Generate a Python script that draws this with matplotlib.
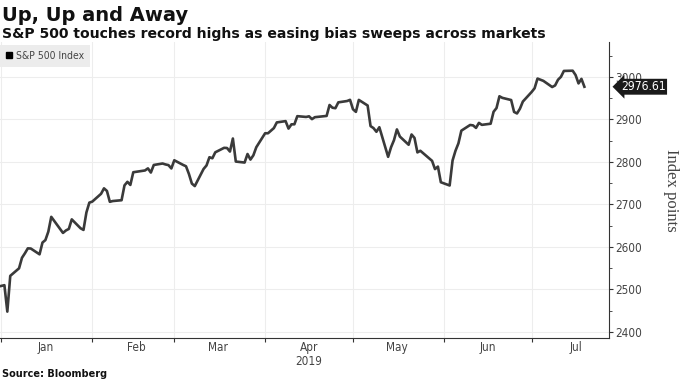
import matplotlib
matplotlib.use("Agg")
import matplotlib.pyplot as plt
import matplotlib.dates as mdates
from matplotlib.lines import Line2D
from matplotlib.ticker import MultipleLocator
import pandas as pd

# S&P 500 daily closes, Dec 31 2018 - Jul 19 2019
dates = pd.bdate_range("2018-12-31", "2019-07-19")
holidays = ["2019-01-01", "2019-01-21", "2019-02-18", "2019-04-19",
            "2019-05-27", "2019-07-04"]
dates = dates[~dates.isin(pd.to_datetime(holidays))]

closes = [
    2506.85, 2510.03, 2447.89, 2531.94, 2549.69, 2574.41, 2584.96, 2596.64,
    2596.26, 2582.61, 2610.30, 2616.10, 2635.96, 2670.71, 2632.90, 2638.70,
    2642.33, 2664.76, 2643.85, 2640.00, 2681.05, 2704.10,
    2706.53, 2724.87, 2737.70, 2731.61, 2706.05, 2707.88, 2709.80, 2744.73,
    2753.03, 2745.73, 2775.60, 2779.76, 2784.70, 2774.88, 2792.67, 2796.11,
    2793.90, 2792.38, 2784.49,
    2803.69, 2792.81, 2789.65, 2771.45, 2748.93, 2743.07, 2783.30, 2791.52,
    2810.92, 2808.48, 2822.48, 2832.94, 2832.57, 2824.23, 2854.88, 2800.71,
    2798.36, 2818.46, 2805.37, 2815.44, 2834.40,
    2867.19, 2867.24, 2873.40, 2879.39, 2892.74, 2895.77, 2878.20, 2888.21,
    2888.32, 2907.41, 2905.58, 2907.06, 2900.45, 2905.03, 2907.97, 2933.68,
    2927.25, 2926.17, 2939.88, 2943.03, 2945.83,
    2923.73, 2917.52, 2945.64, 2932.47, 2884.05, 2879.42, 2870.72, 2881.40,
    2811.87, 2834.41, 2850.96, 2876.32, 2859.53, 2840.23, 2864.36, 2856.27,
    2822.24, 2826.06, 2802.39, 2783.02, 2788.86, 2752.06,
    2744.45, 2803.27, 2826.15, 2843.49, 2873.34, 2886.73, 2885.72, 2879.84,
    2891.64, 2886.98, 2889.67, 2917.75, 2926.46, 2954.18, 2950.46, 2945.35,
    2917.38, 2913.78, 2924.92, 2941.76,
    2964.33, 2973.01, 2995.82, 2990.41, 2975.95, 2979.63, 2993.07, 2999.91,
    3013.77, 3014.30, 3004.04, 2984.42, 2995.11, 2976.61,
]
series = pd.Series(closes, index=dates)
last_value = closes[-1]

NARROW = dict(family="DejaVu Sans", stretch="condensed")
GREY = "#444444"

fig = plt.figure(figsize=(6.8, 3.81), dpi=100)
ax = fig.add_axes([0.0, 0.113, 0.896, 0.777])

ax.plot(series.index, series.values, color="#3a3a3a", lw=1.9)

ax.set_xlim(pd.Timestamp("2018-12-31 12:00"), pd.Timestamp("2019-07-27 12:00"))
ax.set_ylim(2386, 3082)

# axes / spines
for s in ["left", "top"]:
    ax.spines[s].set_visible(False)
ax.spines["right"].set_color("#333333")
ax.spines["bottom"].set_color("#333333")
ax.yaxis.tick_right()
ax.yaxis.set_label_position("right")
ax.yaxis.set_major_locator(MultipleLocator(100))
ax.yaxis.set_minor_locator(MultipleLocator(50))
ax.tick_params(axis="y", which="major", length=3, color="#333333",
               labelcolor=GREY, pad=1)
ax.tick_params(axis="y", which="minor", length=2, color="#333333")

ax.xaxis.set_major_locator(mdates.MonthLocator())
ax.xaxis.set_major_formatter(plt.NullFormatter())
ax.xaxis.set_minor_locator(mdates.MonthLocator(bymonthday=16))
ax.xaxis.set_minor_formatter(mdates.DateFormatter("%b"))
ax.tick_params(axis="x", which="major", length=3, color="#333333")
ax.tick_params(axis="x", which="minor", length=0, labelcolor=GREY, pad=2)
for lbl in ax.get_yticklabels() + ax.get_xticklabels(minor=True):
    lbl.set_fontproperties(dict(NARROW, size=8.5))

ax.annotate("2019", xy=(pd.Timestamp("2019-04-16"), 0),
            xycoords=("data", "axes fraction"), xytext=(0, -12),
            textcoords="offset points", ha="center", va="top",
            fontsize=8.5, color=GREY, **NARROW)

ax.grid(True, which="major", color="#ededed", lw=0.8)
ax.set_axisbelow(True)

ax.set_ylabel("Index points", rotation=270, labelpad=27, fontsize=12,
              color=GREY, family=["Liberation Serif", "DejaVu Serif"])

# last value tag
ax.text(1.019, last_value, f"{last_value:.2f}", transform=ax.get_yaxis_transform(),
        ha="left", va="center", color="white", fontsize=8.7, **NARROW,
        bbox=dict(boxstyle="larrow,pad=0.12", fc="#1a1a1a", ec="none"))

# legend
handle = Line2D([], [], marker="s", color="black", ls="", markersize=4)
leg = ax.legend([handle], ["S&P 500 Index"], loc="upper left",
                bbox_to_anchor=(0.0, 0.99), borderaxespad=0.0,
                frameon=True, fancybox=False,
                facecolor="#ececec", edgecolor="none", framealpha=1,
                handlelength=0.6, handletextpad=0.3, borderpad=0.6,
                prop=dict(NARROW, size=7.5))
for t in leg.get_texts():
    t.set_color(GREY)

fig.text(0.003, 0.985, "Up, Up and Away", ha="left", va="top",
         fontsize=14, fontweight="bold", color="#111111")
fig.text(0.003, 0.93, "S&P 500 touches record highs as easing bias sweeps across markets",
         ha="left", va="top", fontsize=10.1, fontweight="bold", color="#111111")
fig.text(0.003, 0.005, "Source: Bloomberg", ha="left", va="bottom",
         fontsize=7, fontweight="bold", color="#111111")

fig.savefig("out.png", dpi=100)
